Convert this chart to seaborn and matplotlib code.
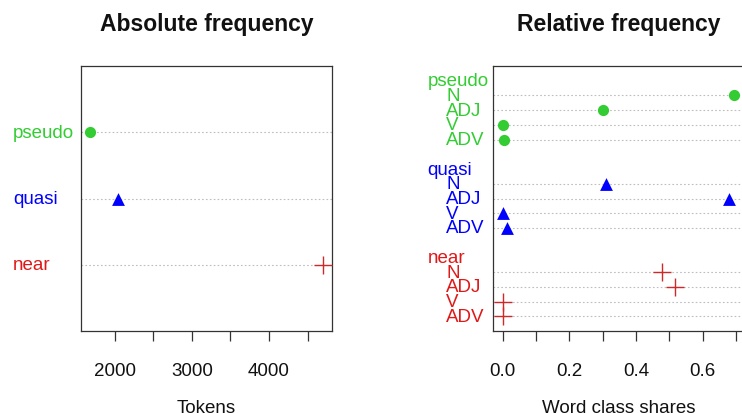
import numpy as np
import pandas as pd
import matplotlib
matplotlib.use("Agg")
import matplotlib.pyplot as plt
import matplotlib.transforms as mtransforms
import seaborn as sns

# ---- data ----
prefixes = ["pseudo", "quasi", "near"]
tokens = [1681, 2043, 4697]
word_classes = ["N", "ADJ", "V", "ADV"]
pseudo_shares = [0.695, 0.300, 0.001, 0.004]
quasi_shares = [0.309, 0.679, 0.001, 0.012]
near_shares = [0.479, 0.518, 0.002, 0.000]
abs_ticks = [2000, 2500, 3000, 3500, 4000, 4500]
abs_ticklabels = ["2000", "", "3000", "", "4000", ""]
rel_ticks = [0.0, 0.1, 0.2, 0.3, 0.4, 0.5, 0.6, 0.7]
rel_ticklabels = ["0.0", "", "0.2", "", "0.4", "", "0.6", ""]

colors = {"pseudo": "#33CC33", "quasi": "#0000FF", "near": "#E01818"}
marker_colors = {"pseudo": "#33CC33", "quasi": "#0000FF", "near": "#D02828"}
markers = {"pseudo": "o", "quasi": "^", "near": "+"}
msize = {"pseudo": 65, "quasi": 85, "near": 150}

sns.set_theme(style="white")
plt.rcParams["font.family"] = ["Liberation Sans", "DejaVu Sans"]

FS = 13.5
W, H = 742, 414
fig = plt.figure(figsize=(W / 100, H / 100), dpi=100)

def fx(px):
    return px / W

def fy(py):
    return (H - py) / H

def style_axes(ax):
    for s in ax.spines.values():
        s.set_visible(True)
        s.set_color("#333333")
        s.set_linewidth(0.9)
    ax.tick_params(axis="x", direction="out", length=7.5, width=0.9,
                   color="#333333", pad=15, labelsize=FS, labelcolor="#111111",
                   bottom=True)
    ax.tick_params(axis="y", left=False, labelleft=False)
    ax.set_xlabel("")
    ax.set_ylabel("")

# ---- left panel: absolute frequency ----
ax1 = fig.add_axes([fx(81), fy(332), fx(332 - 81), (332 - 67) / H])
ypos_abs = [3, 2, 1]
df_abs = pd.DataFrame({"prefix": prefixes, "tokens": tokens, "y": ypos_abs})
for y in ypos_abs:
    ax1.axhline(y, color="#BEBEBE", lw=0.8, ls=(0, (1.5, 2)), zorder=1)
for p in prefixes:
    sub = df_abs[df_abs["prefix"] == p]
    kw = dict(linewidth=1.0) if p == "near" else dict(linewidth=0)
    sns.scatterplot(data=sub, x="tokens", y="y", ax=ax1, marker=markers[p],
                    color=marker_colors[p], s=msize[p], zorder=3, legend=False, **kw)
rng = max(tokens) - min(tokens)
ax1.set_xlim(min(tokens) - 0.04 * rng, max(tokens) + 0.04 * rng)
ax1.set_ylim(0, 4)
ax1.set_xticks(abs_ticks)
ax1.set_xticklabels(abs_ticklabels)
style_axes(ax1)
tr1 = mtransforms.blended_transform_factory(fig.transFigure, ax1.transData)
for p, y in zip(prefixes, ypos_abs):
    ax1.text(fx(13), y, p, transform=tr1, color=colors[p], fontsize=FS,
             ha="left", va="center")
fig.text(fx(206.5), fy(25), "Absolute frequency", ha="center", va="center",
         fontsize=16.5, fontweight="bold", color="#111111")
fig.text(fx(206.5), fy(409), "Tokens", ha="center", va="center",
         fontsize=FS, color="#111111")

# ---- right panel: relative frequency ----
x0, x1 = 493.4, 743.6
ax2 = fig.add_axes([fx(x0), fy(332), fx(x1 - x0), (332 - 67) / H])
shares = {"pseudo": pseudo_shares, "quasi": quasi_shares, "near": near_shares}
group_top = {"pseudo": 17, "quasi": 11, "near": 5}
rows = []
for p in prefixes:
    for i, wc in enumerate(word_classes):
        rows.append({"prefix": p, "wc": wc, "share": shares[p][i],
                     "y": group_top[p] - 1 - i})
df_rel = pd.DataFrame(rows)
for y in df_rel["y"]:
    ax2.axhline(y, color="#BEBEBE", lw=0.8, ls=(0, (1.5, 2)), zorder=1)
for p in prefixes:
    sub = df_rel[df_rel["prefix"] == p]
    kw = dict(linewidth=1.0) if p == "near" else dict(linewidth=0)
    sns.scatterplot(data=sub, x="share", y="y", ax=ax2, marker=markers[p],
                    color=marker_colors[p], s=msize[p], zorder=3, legend=False, **kw)
allv = df_rel["share"]
rng2 = allv.max() - allv.min()
ax2.set_xlim(allv.min() - 0.04 * rng2, allv.max() + 0.04 * rng2)
ax2.set_ylim(0, 18)
ax2.set_xticks(rel_ticks)
ax2.set_xticklabels(rel_ticklabels)
style_axes(ax2)
tr2 = mtransforms.blended_transform_factory(fig.transFigure, ax2.transData)
for p in prefixes:
    ax2.text(fx(427.3), group_top[p], p, transform=tr2, color=colors[p],
             fontsize=FS, ha="left", va="center", clip_on=False)
for _, r in df_rel.iterrows():
    ax2.text(fx(446), r["y"], r["wc"], transform=tr2, color=colors[r["prefix"]],
             fontsize=FS, ha="left", va="center", clip_on=False)
fig.text(fx(618.5), fy(25), "Relative frequency", ha="center", va="center",
         fontsize=16.5, fontweight="bold", color="#111111")
fig.text(fx(618.5), fy(409), "Word class shares", ha="center", va="center",
         fontsize=FS, color="#111111")

fig.savefig("out.png", dpi=100)
